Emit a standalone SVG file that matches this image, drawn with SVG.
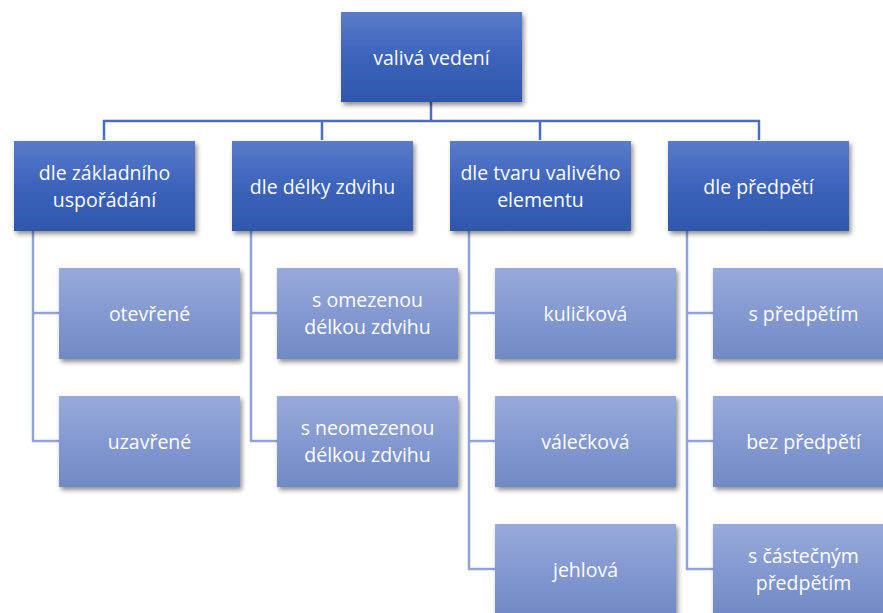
<svg xmlns="http://www.w3.org/2000/svg" width="883" height="613" viewBox="0 0 883 613">
<style>
.t{font-family:"Open Sans","Liberation Sans",sans-serif;font-size:19.5px;fill:#ffffff;text-anchor:middle;dominant-baseline:central}
.c1{fill:none;stroke:#4a6dc1;stroke-width:2.5}
.c2{fill:none;stroke:#8fa3d6;stroke-width:2.5}
.b1{fill:url(#g1);filter:url(#sh)}
.b2{fill:url(#g2);filter:url(#sh)}
</style>
<defs>
<linearGradient id="g1" x1="0" y1="0" x2="0" y2="1">
<stop offset="0" stop-color="#5a7bca"/><stop offset="0.5" stop-color="#3c63bb"/><stop offset="1" stop-color="#2f57ab"/>
</linearGradient>
<linearGradient id="g2" x1="0" y1="0" x2="0" y2="1">
<stop offset="0" stop-color="#97aad9"/><stop offset="0.5" stop-color="#8499d1"/><stop offset="1" stop-color="#7189c5"/>
</linearGradient>
<filter id="sh" x="-10%" y="-10%" width="125%" height="130%">
<feGaussianBlur in="SourceAlpha" stdDeviation="2.5"/>
<feOffset dx="2" dy="3" result="o"/>
<feComponentTransfer><feFuncA type="linear" slope="0.45"/></feComponentTransfer>
<feMerge><feMergeNode/><feMergeNode in="SourceGraphic"/></feMerge>
</filter>
</defs>
<g id="connectors">
<path class="c1" d="M431 102V121M104 140V121H759V140M322 121V140M540 121V140"/>
<path class="c2" d="M33 231V441H59M33 313H59"/>
<path class="c2" d="M251 231V441H277M251 313H277"/>
<path class="c2" d="M469 231V569H495M469 313H495M469 441H495"/>
<path class="c2" d="M687 231V569H713M687 313H713M687 441H713"/>
</g>
<g id="n0"><rect class="b1" x="341" y="12" width="181" height="90"/><text class="t" x="431.5" y="57">valivá vedení</text></g>
<g id="n1"><rect class="b1" x="14" y="141" width="181" height="90"/><text class="t" x="104.5" y="172.5">dle základního</text><text class="t" x="104.5" y="199.5">uspořádání</text></g>
<g id="n2"><rect class="b1" x="232" y="141" width="181" height="90"/><text class="t" x="322.5" y="186">dle délky zdvihu</text></g>
<g id="n3"><rect class="b1" x="450" y="141" width="181" height="90"/><text class="t" x="540.5" y="172.5">dle tvaru valivého</text><text class="t" x="540.5" y="199.5">elementu</text></g>
<g id="n4"><rect class="b1" x="668" y="141" width="181" height="90"/><text class="t" x="758.5" y="186">dle předpětí</text></g>
<g id="n11"><rect class="b2" x="59" y="268" width="181" height="91"/><text class="t" x="149.5" y="313">otevřené</text></g>
<g id="n12"><rect class="b2" x="59" y="396" width="181" height="91"/><text class="t" x="149.5" y="441">uzavřené</text></g>
<g id="n21"><rect class="b2" x="277" y="268" width="181" height="91"/><text class="t" x="367.5" y="299.5">s omezenou</text><text class="t" x="367.5" y="326.5">délkou zdvihu</text></g>
<g id="n22"><rect class="b2" x="277" y="396" width="181" height="91"/><text class="t" x="367.5" y="427.5">s neomezenou</text><text class="t" x="367.5" y="454.5">délkou zdvihu</text></g>
<g id="n31"><rect class="b2" x="495" y="268" width="181" height="91"/><text class="t" x="585.5" y="313">kuličková</text></g>
<g id="n32"><rect class="b2" x="495" y="396" width="181" height="91"/><text class="t" x="585.5" y="441">válečková</text></g>
<g id="n33"><rect class="b2" x="495" y="524" width="181" height="91"/><text class="t" x="585.5" y="569">jehlová</text></g>
<g id="n41"><rect class="b2" x="713" y="268" width="181" height="91"/><text class="t" x="803.5" y="313">s předpětím</text></g>
<g id="n42"><rect class="b2" x="713" y="396" width="181" height="91"/><text class="t" x="803.5" y="441">bez předpětí</text></g>
<g id="n43"><rect class="b2" x="713" y="524" width="181" height="91"/><text class="t" x="803.5" y="555.5">s částečným</text><text class="t" x="803.5" y="582.5">předpětím</text></g>
</svg>
